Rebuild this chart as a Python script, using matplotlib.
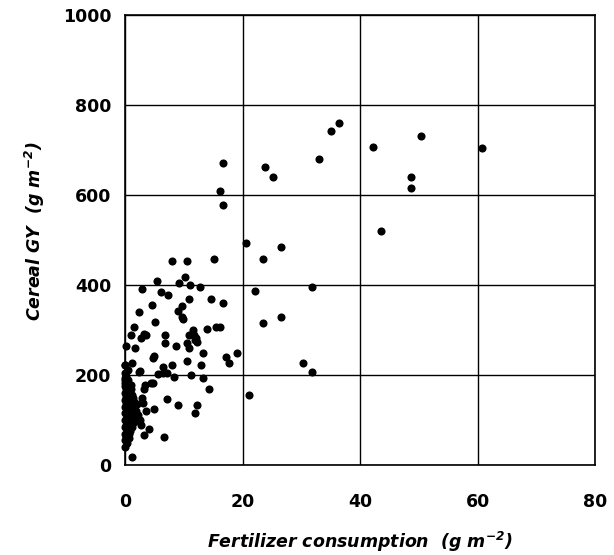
import matplotlib
matplotlib.use("Agg")
import matplotlib.pyplot as plt

# fertilizer consumption (g m-2) vs cereal grain yield (g m-2)
fert = [
    16.7, 16.2, 16.7, 23.8, 25.2, 33.1, 35.1, 36.5, 42.2, 50.4, 48.7, 48.7, 60.8, 43.6,
    20.6, 26.6, 23.5, 31.9, 26.6, 23.5, 30.3, 31.9, 22.1, 21.1,
    8.0, 10.5, 15.2, 10.2, 5.4, 9.2, 11.1, 12.8, 2.9, 6.1, 7.3, 10.9, 14.7, 16.7,
    4.6, 9.7, 9.0, 2.4, 5.1, 9.9, 1.5, 14.0, 15.5, 16.2, 11.6, 3.2, 1.0, 2.7, 6.8,
    10.9, 12.1, 6.8, 8.7, 10.6, 10.9, 0.2, 1.7, 13.3, 4.9, 19.1, 17.2, 17.7, 10.6,
    12.9, 1.2, 0.0, 2.4, 6.5, 8.0, 5.6, 6.5, 8.3, 11.2, 13.3, 14.3, 4.8, 3.4, 3.2,
    2.9, 7.2, 9.0, 12.3, 11.9, 3.1, 3.6, 4.9, 4.1, 3.2, 6.6, 1.2,
    9.7, 3.6, 11.9, 4.8, 0.5, 7.2, 1.0, 4.4, 0.0, 0.0, 2.6, 11.8, 12.3,
    # dense cluster near zero fertilizer
    0.0, 0.0, 0.0, 0.0, 0.0, 0.0, 0.0, 0.0, 0.0, 0.0, 0.0, 0.0, 0.0,
    0.3, 0.3, 0.3, 0.3, 0.3, 0.3, 0.3, 0.3, 0.3,
    0.6, 0.6, 0.6, 0.6, 0.6, 0.6, 0.6, 0.6,
    0.9, 0.9, 0.9, 0.9, 0.9, 0.9, 0.9,
    1.2, 1.2, 1.2, 1.2, 1.2, 1.2,
    1.5, 1.5, 1.5, 1.5,
    1.8, 1.8, 2.2, 2.5, 2.7, 2.0,
    0.15, 0.15, 0.15, 0.15, 0.15, 0.15, 0.15, 0.15,
    0.45, 0.45, 0.45, 0.45, 0.45, 0.45, 0.45,
    0.75, 0.75, 0.75, 0.75, 0.75, 0.75,
    1.05, 1.05, 1.05, 1.05, 1.35, 1.35, 1.35,
]
yield_gy = [
    671, 609, 578, 662, 640, 680, 742, 760, 706, 731, 640, 616, 705, 520,
    493, 484, 458, 396, 329, 315, 227, 207, 387, 156,
    453, 453, 458, 418, 409, 405, 400, 395, 391, 385, 378, 369, 369, 360,
    356, 354, 342, 340, 318, 324, 307, 302, 307, 307, 300, 291, 289, 282, 289,
    289, 282, 271, 264, 271, 260, 264, 260, 249, 242, 249, 240, 227, 231,
    222, 227, 222, 207, 218, 222, 202, 204, 196, 200, 193, 169, 182, 178, 169,
    149, 147, 133, 133, 116, 138, 120, 124, 80, 67, 62, 18,
    329, 289, 278, 238, 211, 204, 178, 182, 193, 182, 209, 289, 273,
    40, 55, 70, 85, 100, 115, 130, 145, 160, 175, 190, 205, 222,
    48, 65, 80, 95, 110, 125, 140, 155, 170,
    60, 78, 92, 108, 122, 138, 150, 165,
    75, 90, 105, 118, 132, 148, 160,
    85, 100, 112, 128, 142, 155,
    95, 110, 125, 140,
    105, 120, 112, 100, 90, 135,
    62, 88, 118, 135, 152, 168, 182, 198,
    72, 102, 130, 148, 162, 176, 188,
    68, 98, 115, 128, 158, 172,
    95, 122, 138, 168, 102, 118, 150,
]

x_ticks = [0, 20, 40, 60, 80]
y_ticks = [0, 200, 400, 600, 800, 1000]

plt.rcParams["font.family"] = "DejaVu Sans"
plt.rcParams["mathtext.default"] = "regular"

fig = plt.figure(figsize=(6.14, 5.55), dpi=100)
ax = fig.add_axes([0.2036, 0.162, 0.7655, 0.811])

ax.scatter(fert, yield_gy, s=34, color="black", zorder=3, clip_on=False, linewidths=0)

ax.set_xlim(0, 80)
ax.set_ylim(0, 1000)
ax.set_xticks(x_ticks)
ax.set_yticks(y_ticks)
ax.grid(True, color="black", linewidth=1.0)
ax.set_axisbelow(True)
for s in ax.spines.values():
    s.set_linewidth(1.2)
    s.set_color("black")

ax.tick_params(axis="both", length=0, labelsize=12.5)
ax.tick_params(axis="x", pad=20)
ax.tick_params(axis="y", pad=10)
for lab in ax.get_xticklabels() + ax.get_yticklabels():
    lab.set_fontweight("bold")

ax.set_xlabel("Fertilizer consumption  (g m$^{-2}$)", fontsize=12.5,
              fontweight="bold", fontstyle="italic", labelpad=14)
ax.set_ylabel("Cereal GY  (g m$^{-2}$)", fontsize=12.5,
              fontweight="bold", fontstyle="italic", labelpad=12)
ax.yaxis.set_label_coords(-0.165, 0.52)

fig.savefig("out.png", dpi=100)
